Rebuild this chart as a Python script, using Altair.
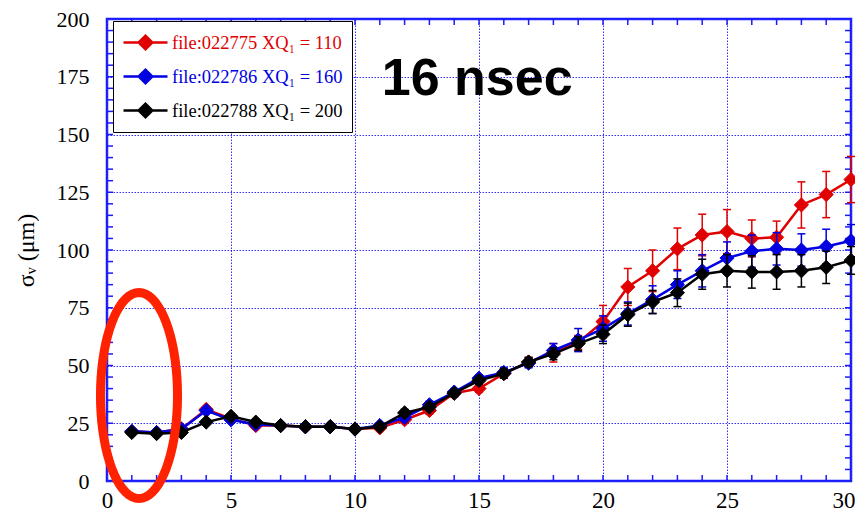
import altair as alt
import pandas as pd
import numpy as np

# ---------------- data ----------------
x_vals = list(range(1, 31))
series_names = ["file:022775 XQ₁ = 110", "file:022786 XQ₁ = 160", "file:022788 XQ₁ = 200"]
series_colors = ["#e00000", "#0000e0", "#000000"]

red_y = [21.5, 21, 22.5, 31, 27, 24, 24, 23.5, 23.5, 22.5, 23, 26.5, 30.5, 38, 40,
         46.5, 51.5, 55.5, 60, 69, 84, 91, 100.5, 106.5, 108, 105, 105.5, 119.5, 124, 130.5]
red_err = [1, 1, 1, 1, 1, 1, 1, 1, 1, 1, 1, 1.5, 1.5, 1.5, 1.5,
           2, 2, 4, 3, 7, 8, 9, 9, 9, 9.5, 8, 7, 10, 10, 10]

blue_y = [21.5, 21, 22.5, 30.5, 26.5, 24.5, 24, 23.5, 23.5, 22.5, 24, 27.5, 33, 38.5, 44.5,
          47, 51, 56.5, 61, 66, 72.5, 78.5, 85, 91, 96.5, 99.5, 100.5, 100, 101.5, 104]
blue_err = [1, 1, 1, 1, 1, 1, 1, 1, 1, 1, 1, 1.5, 1.5, 1.5, 1.5,
            2, 2, 3, 5, 5.5, 5, 6, 6, 7, 7, 7, 7, 7, 7.5, 7]

black_y = [21, 20.5, 21, 25.5, 28, 25.5, 24, 23.5, 23.5, 22.5, 23.5, 29.5, 32, 38, 43.5,
           46.5, 51.5, 55, 59.5, 63.5, 72, 77.5, 81.5, 89.5, 91, 90.5, 90.5, 91, 92.5, 95.5]
black_err = [1, 1, 1, 1, 1, 1, 1, 1, 1, 1, 1, 1.5, 1.5, 1.5, 1.5,
             2, 2, 2.5, 3, 4, 5, 5, 6, 6.5, 7, 7, 7.5, 7, 7, 6]

x_label_values = [0, 5, 10, 15, 20, 25, 30]
y_label_values = [0, 25, 50, 75, 100, 125, 150, 175, 200]
x_minor = list(range(1, 30))
y_minor = list(range(5, 200, 5))

annot_text = ["16 nsec"]
annot_x = [11.08]
annot_y = [167]
ellipse_x = [1.29]
ellipse_y = [37]

# ---------------- tables ----------------
rows = []
for name, ys, es in zip(series_names, [red_y, blue_y, black_y], [red_err, blue_err, black_err]):
    for xv, yv, ev in zip(x_vals, ys, es):
        rows.append({"series": name, "x": xv, "y": yv, "lo": yv - ev, "hi": yv + ev})
df = pd.DataFrame(rows)

W, H = 744, 462
BLUE = "#1a1aff"
GRID = "#3030ff"

xscale = alt.Scale(domain=[0, 30], nice=False, zero=False)
yscale = alt.Scale(domain=[0, 200], nice=False, zero=False)
cscale = alt.Scale(domain=series_names, range=series_colors)

x_axis = alt.Axis(values=x_label_values, ticks=False, domain=False, grid=True,
                  gridColor=GRID, gridDash=[1.5, 1.5], gridWidth=1,
                  labelFont="Liberation Serif", labelFontSize=23, labelColor="black",
                  labelPadding=8, title=None, labelFlush=False,
                  labelAlign={"condition": {"test": "datum.value == 30", "value": "right"},
                              "value": "center"},
                  labelOffset={"condition": {"test": "datum.value == 30", "value": 4},
                               "value": 0})
y_axis = alt.Axis(values=y_label_values, ticks=False, domain=False, grid=True,
                  gridColor=GRID, gridDash=[1.5, 1.5], gridWidth=1,
                  labelFont="Liberation Serif", labelFontSize=22, labelColor="black",
                  labelPadding=18, title="σᵥ (μm)", titleFont="Liberation Serif",
                  titleFontSize=24, titleFontWeight="normal", titleColor="black",
                  titlePadding=18, labelFlush=False)


def X(field):
    return alt.X(field, scale=xscale, axis=x_axis)


def Y(field):
    return alt.Y(field, scale=yscale, axis=y_axis)


legend_path = "M-2,0L2,0M-0.62,0L0,-0.62L0.62,0L0,0.62Z"
label_color_expr = (
    f"datum.label == '{series_names[0]}' ? '{series_colors[0]}' : "
    f"(datum.label == '{series_names[1]}' ? '{series_colors[1]}' : '{series_colors[2]}')"
)
legend = alt.Legend(
    orient="none", legendX=6, legendY=2, title=None,
    strokeColor="black", fillColor="white", padding=9,
    symbolType=legend_path, symbolSize=484, symbolStrokeWidth=2.5,
    symbolOffset=11, labelOffset=14, rowPadding=9,
    labelFont="Liberation Serif", labelFontSize=18.5,
    labelColor={"expr": label_color_expr}, labelLimit=400,
    symbolOpacity=1,
)

base = alt.Chart(df)
layers = []
for name, col in zip(series_names, series_colors):
    sub = base.transform_filter(alt.datum.series == name)
    rule = sub.mark_rule(strokeWidth=1.5, color=col).encode(
        x=X("x:Q"), y=Y("lo:Q"), y2="hi:Q")
    cap_lo = sub.mark_tick(orient="horizontal", size=8, thickness=1.5, opacity=1, color=col).encode(
        x=X("x:Q"), y=Y("lo:Q"))
    cap_hi = sub.mark_tick(orient="horizontal", size=8, thickness=1.5, opacity=1, color=col).encode(
        x=X("x:Q"), y=Y("hi:Q"))
    line = sub.mark_line(strokeWidth=2.5, color=col).encode(x=X("x:Q"), y=Y("y:Q"))
    pts = sub.mark_point(shape="diamond", filled=True, size=200, opacity=1, strokeWidth=1).encode(
        x=X("x:Q"), y=Y("y:Q"),
        fill=alt.Fill("series:N", scale=cscale, legend=legend),
        stroke=alt.Stroke("series:N", scale=cscale, legend=legend))
    layers += [rule, cap_lo, cap_hi, line, pts]

# inward minor ticks on all four sides
xt = alt.Chart(pd.DataFrame({"t": x_minor}))
yt = alt.Chart(pd.DataFrame({"t": y_minor}))
tick_bottom = xt.mark_rule(color=BLUE, strokeWidth=1.5).encode(
    x=X("t:Q"), y=alt.value(H), y2=alt.value(H - 6))
tick_top = xt.mark_rule(color=BLUE, strokeWidth=1.5).encode(
    x=X("t:Q"), y=alt.value(0), y2=alt.value(6))
tick_left = yt.mark_rule(color=BLUE, strokeWidth=1.5).encode(
    y=Y("t:Q"), x=alt.value(0), x2=alt.value(6))
tick_right = yt.mark_rule(color=BLUE, strokeWidth=1.5).encode(
    y=Y("t:Q"), x=alt.value(W), x2=alt.value(W - 6))

annot = alt.Chart(pd.DataFrame({"t": annot_text, "x": annot_x, "y": annot_y})).mark_text(
    font="Liberation Sans", fontWeight="bold", fontSize=52, align="left",
    baseline="alphabetic", color="black").encode(
    x=X("x:Q"), y=Y("y:Q"), text="t:N")

# red ellipse annotation (custom symbol path)
theta = np.linspace(0, 2 * np.pi, 73)
ell_pts = [f"{0.374 * np.cos(t):.4f},{np.sin(t):.4f}" for t in theta]
ell_path = "M" + "L".join(ell_pts) + "Z"
ellipse = alt.Chart(pd.DataFrame({"x": ellipse_x, "y": ellipse_y})).mark_point(
    shape=ell_path, size=206 * 206, filled=False, stroke="#ff2200", strokeWidth=9,
    opacity=1).encode(x=X("x:Q"), y=Y("y:Q"))

chart = alt.layer(
    tick_bottom, tick_top, tick_left, tick_right, *layers, annot, ellipse
).properties(
    width=W, height=H,
    autosize=alt.AutoSizeParams(type="none"),
    padding={"left": 99, "top": 11, "right": 4, "bottom": 32},
).configure_view(stroke=BLUE, strokeWidth=2.5)

chart.save("out.html", embed_options={"renderer": "svg", "actions": False})
